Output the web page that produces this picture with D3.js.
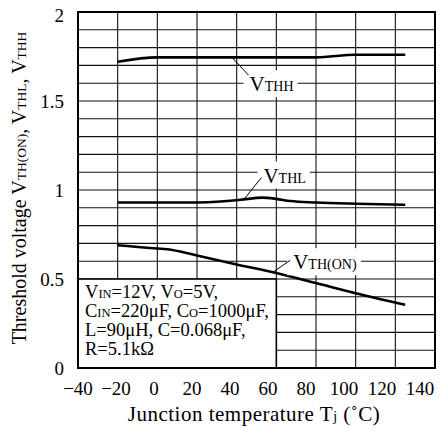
<!DOCTYPE html>
<html><head><meta charset="utf-8">
<script src="https://cdn.jsdelivr.net/npm/d3@7"></script>
<style>
html,body{margin:0;padding:0;background:#fff;}
svg{display:block;}
text{font-family:"Liberation Serif","DejaVu Serif",serif;fill:#000;}
</style></head>
<body>
<svg id="c" width="445" height="430"></svg>
<script>
// ---- data ----
const xTicks = [-40, -20, 0, 20, 40, 60, 80, 100, 120, 140];
const yTicks = [0, 0.5, 1, 1.5, 2];
const yTickLabels = ["0", "0.5", "1", "1.5", "2"];

const vthhTemp = [-20, 0, 80, 100, 125];
const vthhVal  = [1.72, 1.745, 1.745, 1.76, 1.76];

const vthlTemp = [-20, 0, 20, 32, 42, 53, 60, 67, 80, 100, 125];
const vthlVal  = [0.93, 0.93, 0.93, 0.935, 0.945, 0.957, 0.95, 0.938, 0.93, 0.923, 0.917];

const vthonTemp = [-20, 0, 5, 20, 40, 60, 80, 100, 125];
const vthonVal  = [0.69, 0.671, 0.667, 0.632, 0.582, 0.534, 0.477, 0.42, 0.355];

const conditionLines = [
  [["V",""],["IN","s"],["=12V, V",""],["O","s"],["=5V,",""]],
  [["C",""],["IN","s"],["=220\u03BCF, C",""],["O","s"],["=1000\u03BCF,",""]],
  [["L=90\u03BCH, C=0.068\u03BCF,",""]],
  [["R=5.1k\u03A9",""]]
];

// ---- layout ----
const svg = d3.select("#c");
const L = 78, R = 435, T = 12, B = 368;
const x = d3.scaleLinear().domain([-40, 140]).range([L, R]);
const y = d3.scaleLinear().domain([0, 2]).range([B, T]);
const xLab = d3.scaleLinear().domain([-40, 140]).range([L, R - 15]);

// grid
const g = svg.append("g");
g.selectAll(".vg").data(d3.range(-40, 141, 20)).enter().append("line")
  .attr("x1", d => x(d)).attr("x2", d => x(d)).attr("y1", T).attr("y2", B)
  .attr("stroke", "#111").attr("stroke-width", 1.1);
g.selectAll(".hg").data(d3.range(0, 21).map(i => i / 10)).enter().append("line")
  .attr("x1", L).attr("x2", R).attr("y1", d => y(d)).attr("y2", d => y(d))
  .attr("stroke", "#111").attr("stroke-width", 1.1);

// curves
const line = d3.line().x(d => x(d[0])).y(d => y(d[1])).curve(d3.curveMonotoneX);
[[vthhTemp, vthhVal], [vthlTemp, vthlVal], [vthonTemp, vthonVal]].forEach(([t, v]) => {
  svg.append("path").datum(t.map((tt, i) => [tt, v[i]]))
    .attr("d", line).attr("fill", "none").attr("stroke", "#000").attr("stroke-width", 2.6);
});

// labels with white bg and leader
const labels = [
  {main: "V", sub: "THH", tx: 46.5, ty: 1.555, lead: [[38, 1.74], [46, 1.645]]},
  {main: "V", sub: "THL", tx: 53.5, ty: 1.042, lead: [[44, 0.952], [52.5, 1.07]]},
  {main: "V", sub: "TH(ON)", tx: 68.5, ty: 0.555, lead: [[58.5, 0.54], [67, 0.605]]}
];
labels.forEach(lb => {
  const gg = svg.append("g");
  const bg = gg.append("rect").attr("fill", "#fff");
  const t = gg.append("text").attr("x", x(lb.tx)).attr("y", y(lb.ty)).attr("font-size", 21);
  t.append("tspan").text(lb.main);
  t.append("tspan").attr("font-size", 14).text(lb.sub);
  const bb = t.node().getBBox();
  bg.attr("x", bb.x - 6).attr("y", bb.y - 2).attr("width", bb.width + 10).attr("height", bb.height + 3);
  svg.append("line").attr("x1", x(lb.lead[0][0])).attr("y1", y(lb.lead[0][1]))
    .attr("x2", x(lb.lead[1][0])).attr("y2", y(lb.lead[1][1]))
    .attr("stroke", "#000").attr("stroke-width", 1);
});

// condition box
svg.append("rect").attr("x", x(-40)).attr("y", y(0.5)).attr("width", x(60) - x(-40)).attr("height", y(0) - y(0.5))
  .attr("fill", "#fff").attr("stroke", "#000").attr("stroke-width", 1.6);
conditionLines.forEach((ln, i) => {
  const t = svg.append("text").attr("x", x(-40) + 7).attr("y", 298 + i * 19).attr("font-size", 18.5);
  ln.forEach(([s, k]) => t.append("tspan").attr("font-size", k === "s" ? 12.5 : 18.5).text(s));
});

// frame
svg.append("rect").attr("x", L).attr("y", T).attr("width", R - L).attr("height", B - T)
  .attr("fill", "none").attr("stroke", "#000").attr("stroke-width", 2);

// tick labels
svg.selectAll(".yl").data(yTicks).enter().append("text")
  .attr("x", 64).attr("y", d => y(d)).attr("dy", (d, i) => i === yTicks.length - 1 ? "0.55em" : "0.36em")
  .attr("text-anchor", "end")
  .attr("font-size", 19).text((d, i) => yTickLabels[i]);
svg.selectAll(".xl").data(xTicks).enter().append("text")
  .attr("x", d => xLab(d)).attr("y", 395).attr("text-anchor", "middle")
  .attr("font-size", 19).text(d => d < 0 ? "\u2212" + Math.abs(d) : d);

// axis titles
const xt = svg.append("text").attr("x", 254).attr("y", 421).attr("text-anchor", "middle")
  .attr("font-size", 21).attr("letter-spacing", 0.5);
xt.append("tspan").text("Junction temperature T");
xt.append("tspan").attr("font-size", 14).text("j");
xt.append("tspan").text(" (\u02DAC)");

const yt = svg.append("text").attr("transform", `translate(26,${(T + B) / 2 - 2}) rotate(-90)`)
  .attr("text-anchor", "middle").attr("font-size", 20);
[["Threshold voltage V", 20], ["TH(ON)", 13.5], [", V", 20], ["THL", 13.5], [", V", 20], ["THH", 13.5]]
  .forEach(([s, f]) => yt.append("tspan").attr("font-size", f).text(s));
</script>
</body></html>
